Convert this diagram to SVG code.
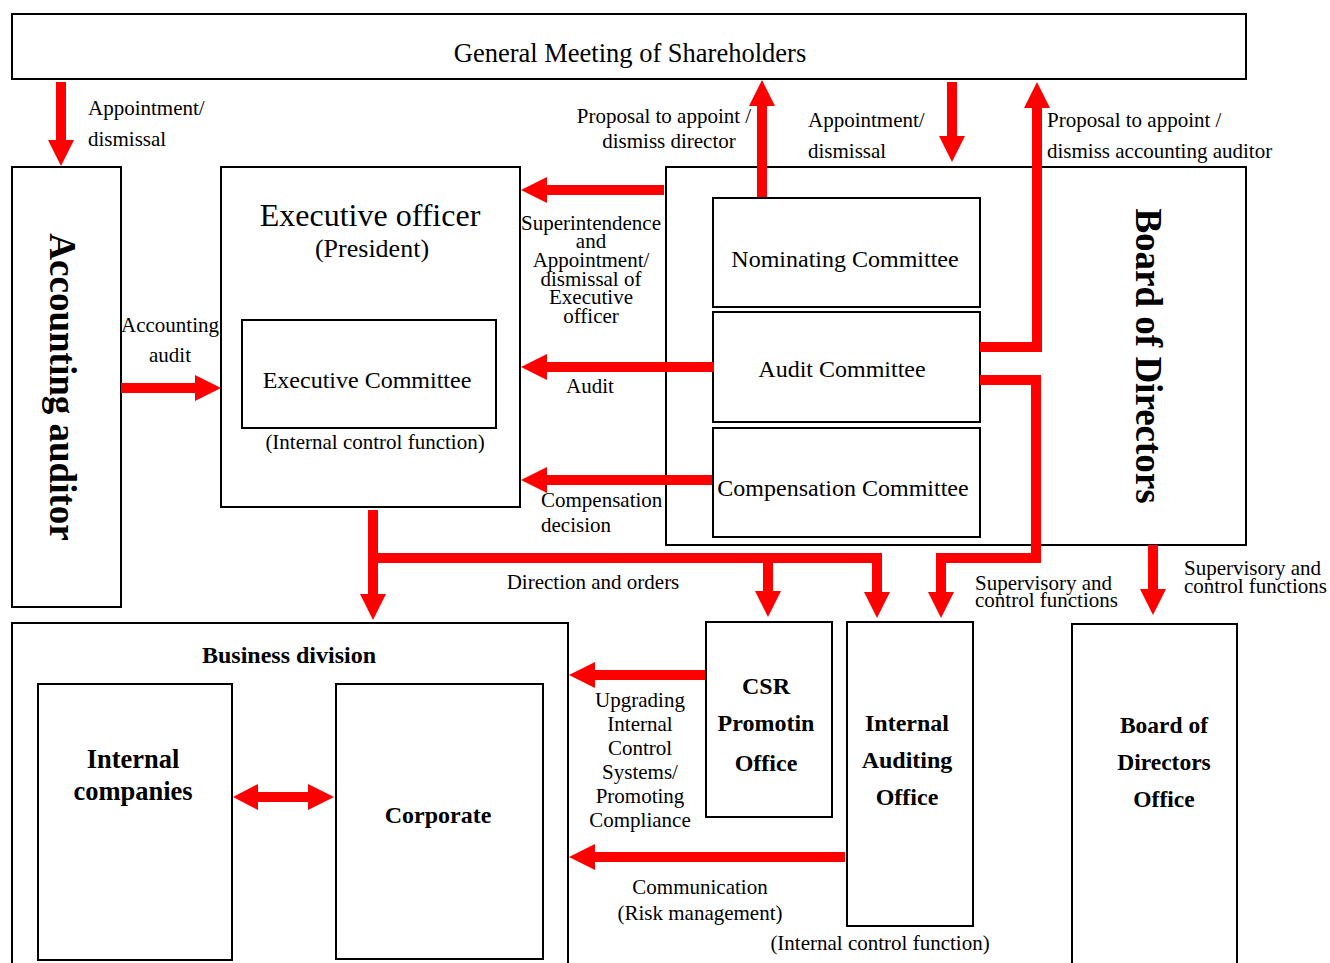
<svg xmlns="http://www.w3.org/2000/svg" width="1330" height="963" viewBox="0 0 1330 963">
<style>
text{font-family:"Liberation Serif","Times New Roman",serif;fill:#000}
.box{fill:#fff;stroke:#000;stroke-width:2}
.c{text-anchor:middle}
.s{font-size:21px}
.m{font-size:24px}
.b{font-weight:bold}
.arr{fill:none;stroke:#ff0000;stroke-width:10;stroke-linejoin:miter}
</style>
<defs>
<marker id="ah" markerUnits="userSpaceOnUse" markerWidth="27" markerHeight="28" refX="0" refY="13" orient="auto" viewBox="0 0 27 28">
<path d="M0,0 L26,13 L0,26 z" fill="#ff0000"/>
</marker>
</defs>
<rect width="1330" height="963" fill="#fff"/>

<g id="gm"><rect class="box" x="12" y="14" width="1234" height="65"/>
<text class="c" x="630" y="62" font-size="26.5">General Meeting of Shareholders</text></g>

<g id="acc-auditor"><rect class="box" x="12" y="167" width="109" height="440"/>
<text class="c b" transform="translate(50,387) rotate(90)" font-size="37">Accounting auditor</text></g>

<g id="exec-officer"><rect class="box" x="221" y="167" width="299" height="340"/>
<text class="c" x="370" y="226" font-size="32">Executive officer</text>
<text class="c" x="372" y="257" font-size="26">(President)</text>
<text class="c s" x="375" y="449">(Internal control function)</text></g>

<g id="exec-committee"><rect class="box" x="242" y="320" width="254" height="108"/>
<text class="c m" x="367" y="388">Executive Committee</text></g>

<g id="bod"><rect class="box" x="666" y="167" width="580" height="378"/>
<text class="c b" transform="translate(1136,356) rotate(90)" font-size="37">Board of Directors</text></g>

<g id="nominating"><rect class="box" x="713" y="198" width="267" height="109"/>
<text class="c m" x="845" y="267">Nominating Committee</text></g>

<g id="audit-committee"><rect class="box" x="713" y="312" width="267" height="110"/>
<text class="c m" x="842" y="377">Audit Committee</text></g>

<g id="compensation"><rect class="box" x="713" y="428" width="267" height="109"/>
<text class="c m" x="843" y="496">Compensation Committee</text></g>

<g id="business-division"><rect class="box" x="12" y="623" width="556" height="345"/>
<text class="c b m" x="289" y="663">Business division</text></g>

<g id="internal-companies"><rect class="box" x="38" y="684" width="194" height="276"/>
<text class="c b" x="133" y="768" font-size="26.5">Internal</text>
<text class="c b" x="133" y="800" font-size="26.5">companies</text></g>

<g id="corporate"><rect class="box" x="336" y="684" width="207" height="275"/>
<text class="c b" x="438" y="823" font-size="24">Corporate</text></g>

<g id="csr"><rect class="box" x="706" y="622" width="126" height="195"/>
<text class="c b m" x="766" y="694">CSR</text>
<text class="c b m" x="766" y="731">Promotin</text>
<text class="c b m" x="766" y="771">Office</text></g>

<g id="internal-auditing"><rect class="box" x="847" y="622" width="126" height="304"/>
<text class="c b m" x="907" y="731">Internal</text>
<text class="c b m" x="907" y="768">Auditing</text>
<text class="c b m" x="907" y="805">Office</text>
<text class="c s" x="880" y="950">(Internal control function)</text></g>

<g id="bod-office"><rect class="box" x="1072" y="624" width="165" height="345"/>
<text class="c b" x="1164" y="733" font-size="23.5">Board of</text>
<text class="c b" x="1164" y="770" font-size="23.5">Directors</text>
<text class="c b" x="1164" y="807" font-size="23.5">Office</text></g>

<g id="connectors">
<path class="arr" d="M61,82 V140" marker-end="url(#ah)"/>
<path class="arr" d="M762,197 V106" marker-end="url(#ah)"/>
<path class="arr" d="M952,82 V136" marker-end="url(#ah)"/>
<path class="arr" d="M980,347 H1037 V108" marker-end="url(#ah)"/>
<path class="arr" d="M664,190 H547" marker-end="url(#ah)"/>
<path class="arr" d="M714,367 H547" marker-end="url(#ah)"/>
<path class="arr" d="M712,480 H547" marker-end="url(#ah)"/>
<path class="arr" d="M121,388 H195" marker-end="url(#ah)"/>
<path class="arr" d="M373,510 V594" marker-end="url(#ah)"/>
<path class="arr" d="M368,558 H877 V592" marker-end="url(#ah)"/>
<path class="arr" d="M768,558 V591" marker-end="url(#ah)"/>
<path class="arr" d="M980,380 H1036 V558 H941 V592" marker-end="url(#ah)"/>
<path class="arr" d="M1153,545 V589" marker-end="url(#ah)"/>
<path class="arr" d="M705,675 H595" marker-end="url(#ah)"/>
<path class="arr" d="M845,857 H595" marker-end="url(#ah)"/>
<path class="arr" d="M257,797 H309"/>
<path d="M233,797 L258,784 L258,810 z M334,797 L308,784 L308,810 z" fill="#ff0000"/>
</g>

<g id="labels">
<text class="s" x="88" y="115">Appointment/</text>
<text class="s" x="88" y="146">dismissal</text>
<text class="c s" x="664" y="123">Proposal to appoint /</text>
<text class="c s" x="669" y="148">dismiss director</text>
<text class="s" x="808" y="127">Appointment/</text>
<text class="s" x="808" y="158">dismissal</text>
<text class="s" x="1047" y="127">Proposal to appoint /</text>
<text class="s" x="1047" y="158">dismiss accounting auditor</text>
<text class="c s" x="591" y="230">Superintendence</text>
<text class="c s" x="591" y="248">and</text>
<text class="c s" x="591" y="267">Appointment/</text>
<text class="c s" x="591" y="286">dismissal of</text>
<text class="c s" x="591" y="304">Executive</text>
<text class="c s" x="591" y="323">officer</text>
<text class="c s" x="590" y="393">Audit</text>
<text class="s" x="541" y="507">Compensation</text>
<text class="s" x="541" y="532">decision</text>
<text class="c s" x="170" y="332">Accounting</text>
<text class="c s" x="170" y="362">audit</text>
<text class="c s" x="593" y="589">Direction and orders</text>
<text class="s" x="975" y="590">Supervisory and</text>
<text class="s" x="975" y="607">control functions</text>
<text class="s" x="1184" y="575">Supervisory and</text>
<text class="s" x="1184" y="593">control functions</text>
<text class="c s" x="640" y="707">Upgrading</text>
<text class="c s" x="640" y="731">Internal</text>
<text class="c s" x="640" y="755">Control</text>
<text class="c s" x="640" y="779">Systems/</text>
<text class="c s" x="640" y="803">Promoting</text>
<text class="c s" x="640" y="827">Compliance</text>
<text class="c s" x="700" y="894">Communication</text>
<text class="c s" x="700" y="920">(Risk management)</text>
</g>
</svg>
